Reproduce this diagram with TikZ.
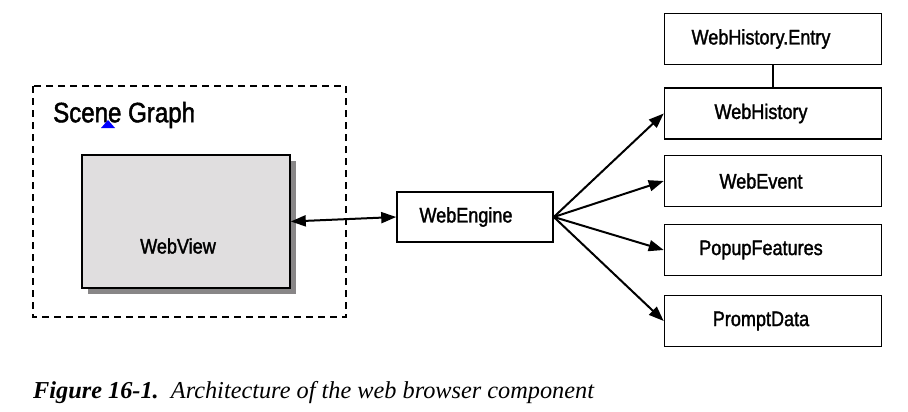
\documentclass[tikz,border=0pt]{standalone}
\usepackage{fontspec}
\setmainfont{Liberation Serif}
\newfontfamily\narrowfont{Liberation Sans}[FakeStretch=0.86, FakeBold=1.6]
\usetikzlibrary{arrows.meta}
\usetikzlibrary{shadows}
\usetikzlibrary{positioning}

\begin{document}
\begin{tikzpicture}[x=1pt, y=-1pt,
		box/.style={draw, line width=1.6pt, minimum width=217pt, minimum height=51pt, inner sep=0pt,
			font=\narrowfont\fontsize{21}{24}\selectfont, execute at begin node={\hspace*{-24pt}}},
		arr/.style={line width=2pt, -{Triangle[length=15pt, width=11pt]}}]
		\useasboundingbox (0,0) rectangle (908,412);

		% scene graph
		\draw[line width=1.6pt, dash pattern=on 7pt off 5pt] (33,86) rectangle (346,317);
		\node[anchor=west, inner sep=0pt, font=\narrowfont\fontsize{28}{30}\selectfont] (scene) at (53,115) {Scene Graph};
		\fill[blue] (101,128) -- (115,128) -- (108,120) -- cycle;
		\node[draw, line width=1.6pt, fill={rgb,255:red,224;green,222;blue,223}, minimum width=208pt, minimum height=133pt,
			drop shadow={shadow xshift=6pt, shadow yshift=-6pt, fill={rgb,255:red,136;green,134;blue,135}, opacity=1}] (webview) at (186,221.5) {};
		\node[font=\narrowfont\fontsize{21}{24}\selectfont] (webviewtext) at (178,246) {WebView};

		% engine and its parts
		\node[box, minimum width=156pt, minimum height=50pt, execute at begin node={\hspace*{6pt}}] (engine) at (475,217) {WebEngine};
		\node[box] (entry) at (773,39) {WebHistory.Entry};
		\node[box] (history) at (773,113.5) {WebHistory};
		\node[box] (event) at (773,181) {WebEvent};
		\node[box] (popup) at (773,250) {PopupFeatures};
		\node[box] (prompt) at (773,321) {PromptData};

		\draw[line width=1.6pt] (entry.south) -- (history.north);
		\draw[line width=2pt, {Triangle[length=15pt, width=11pt]}-{Triangle[length=15pt, width=11pt]}] (webview.east) -- (engine.west);
		\foreach \t in {history, event, popup, prompt}
			\draw[arr] (engine.east) -- (\t.west);

		% caption
		\node[anchor=west, inner sep=0pt, font=\fontsize{24.3}{27}\selectfont] (caption) at (33,393) {\textbf{\textit{Figure 16-1.}}\ \ \textit{Architecture of the web browser component}};
\end{tikzpicture}
\end{document}
